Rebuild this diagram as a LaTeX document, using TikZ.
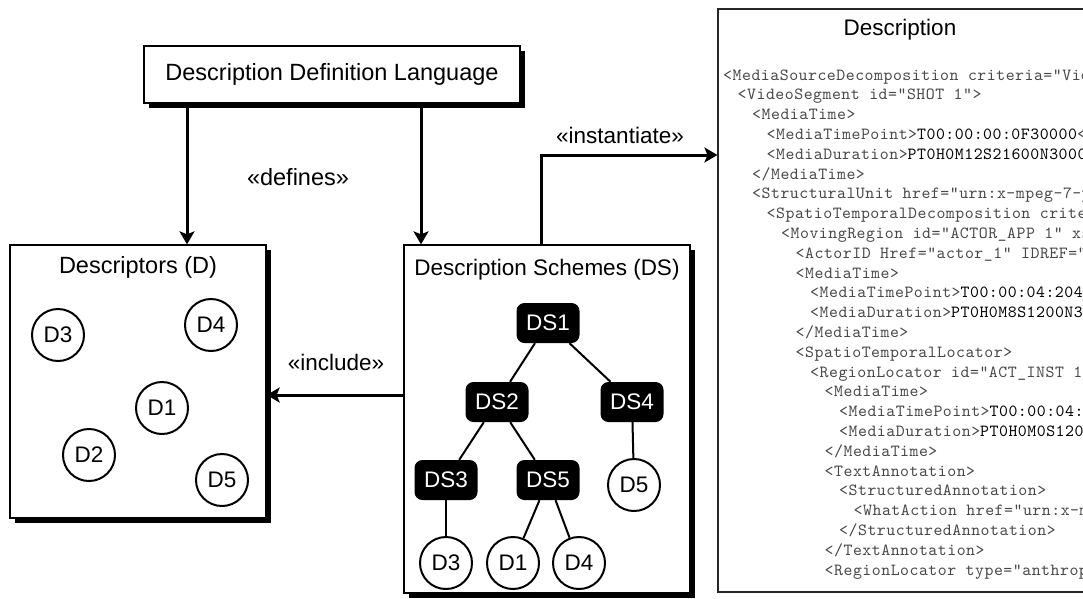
\documentclass[tikz,border=0pt]{standalone}
\usepackage{fontspec}
\setmainfont{Liberation Sans}
\newfontfamily\xmlfont{lmmono10-regular.otf}[LetterSpace=3]
\usetikzlibrary{arrows.meta,shadows}
\definecolor{tagc}{HTML}{484848}
\newcommand{\vl}[1]{\textcolor{black}{#1}}
\begin{document}
\begin{tikzpicture}[x=1pt,y=-1pt,
  sans/.style={font=\fontsize{22.5pt}{26pt}\selectfont, inner sep=0pt},
  bigsans/.style={font=\fontsize{23.5pt}{27pt}\selectfont, inner sep=0pt},
  box/.style={draw=black, line width=1.3pt, fill=white, inner sep=0pt,
    drop shadow={shadow xshift=5pt, shadow yshift=-5pt, opacity=1, fill=black}},
  descbox/.style={draw=black!85, line width=1.1pt, fill=white, inner sep=0pt},
  arr/.style={line width=3pt, -{Stealth[length=13pt,width=15pt,inset=3pt]}},
  dsnode/.style={fill=black, rounded corners=8pt, minimum width=63pt, minimum height=40pt,
    text=white, font=\fontsize{22.5pt}{26pt}\selectfont, inner sep=0pt},
  dnode/.style={circle, draw=black, line width=2pt, fill=white, minimum size=52pt,
    font=\fontsize{22.5pt}{26pt}\selectfont, inner sep=0pt},
  edge/.style={line width=2pt},
  xml/.style={anchor=base west, inner sep=0pt, text=tagc,
    font=\xmlfont\fontsize{17pt}{19pt}\selectfont}]
\clip (0,0) rectangle (1083,598);
\fill[white] (0,0) rectangle (1083,598);

% boxes
\node[box, minimum width=376pt, minimum height=57pt] (ddl) at (332,74.5) {};
\node[bigsans] (ddlt) at (332,74.5) {Description Definition Language};
\node[box, minimum width=256pt, minimum height=273pt] (D) at (138,381.5) {};
\node[bigsans] (Dt) at (138,267) {Descriptors (D)};
\node[box, minimum width=286pt, minimum height=348pt] (DS) at (547,419) {};
\node[sans] (DSt) at (547,270) {Description Schemes (DS)};
\node[descbox, minimum width=382pt, minimum height=583pt] (Desc) at (909,300.5) {};
\node[sans] (Desct) at (900,30) {Description};

% connectors
\coordinate (a1) at (187,0);
\coordinate (a2) at (421,0);
\coordinate (inc) at (0,395);
\coordinate (ins) at (541,155);
\draw[arr] (ddl.south -| a1) -- (D.north -| a1);
\draw[arr] (ddl.south -| a2) -- (DS.north -| a2);
\node[bigsans] (deflab) at (298,177) {«defines»};
\draw[arr] (DS.west |- inc) -- (D.east |- inc);
\node[sans] (inclab) at (336,362) {«include»};
\draw[arr] (DS.north -| ins) -- (ins) -- (Desc.west |- ins);
\node[sans] (inslab) at (620,135) {«instantiate»};

% descriptors
\node[dnode] (d3) at (58,335) {D3};
\node[dnode] (d4) at (211,325) {D4};
\node[dnode] (d1) at (162,408) {D1};
\node[dnode] (d2) at (89,455) {D2};
\node[dnode] (d5) at (222,480) {D5};

% tree
\node[dsnode] (ds1) at (548,323) {DS1};
\node[dsnode] (ds2) at (497,402) {DS2};
\node[dsnode] (ds4) at (632,402) {DS4};
\node[dsnode] (ds3) at (446,480) {DS3};
\node[dsnode] (ds5) at (548,480) {DS5};
\node[dnode] (t5) at (634,485) {D5};
\node[dnode] (t3) at (446,563) {D3};
\node[dnode] (t1) at (513,563) {D1};
\node[dnode] (t4) at (579,563) {D4};
\draw[edge] (ds1) -- (ds2);
\draw[edge] (ds1) -- (ds4);
\draw[edge] (ds2) -- (ds3);
\draw[edge] (ds2) -- (ds5);
\draw[edge] (ds3) -- (t3);
\draw[edge] (ds4) -- (t5);
\draw[edge] (ds5) -- (t1);
\draw[edge] (ds5) -- (t4);

% xml text
\begin{scope}
\clip (718,9) rectangle (1083,598);
\node[xml] (x1) at (723,80) {<MediaSourceDecomposition criteria="VideoSegment">};
\node[xml] (x2) at (737.5,99.8) {<VideoSegment id="SHOT 1">};
\node[xml] (x3) at (752,119.6) {<MediaTime>};
\node[xml] (x4) at (766.5,139.4) {<MediaTimePoint>\vl{T00:00:00:0F30000}</MediaTimePoint>};
\node[xml] (x5) at (766.5,159.2) {<MediaDuration>\vl{PT0H0M12S21600N30000F}</MediaDuration>};
\node[xml] (x6) at (752,179) {</MediaTime>};
\node[xml] (x7) at (752,198.8) {<StructuralUnit href="urn:x-mpeg-7-pictdesc">};
\node[xml] (x8) at (766.5,218.6) {<SpatioTemporalDecomposition criteria="Actor">};
\node[xml] (x9) at (781,238.4) {<MovingRegion id="ACTOR\_APP 1" xsi:type="Actor">};
\node[xml] (x10) at (795.5,258.2) {<ActorID Href="actor\_1" IDREF="actor">};
\node[xml] (x11) at (795.5,278) {<MediaTime>};
\node[xml] (x12) at (810,297.8) {<MediaTimePoint>\vl{T00:00:04:20400F30000}</MediaTimePoint>};
\node[xml] (x13) at (810,317.6) {<MediaDuration>\vl{PT0H0M8S1200N30000F}</MediaDuration>};
\node[xml] (x14) at (795.5,337.4) {</MediaTime>};
\node[xml] (x15) at (795.5,357.2) {<SpatioTemporalLocator>};
\node[xml] (x16) at (810,377) {<RegionLocator id="ACT\_INST 1">};
\node[xml] (x17) at (824.5,396.8) {<MediaTime>};
\node[xml] (x18) at (839,416.6) {<MediaTimePoint>\vl{T00:00:04:20400F30000}</MediaTimePoint>};
\node[xml] (x19) at (839,436.4) {<MediaDuration>\vl{PT0H0M0S1200N30000F}</MediaDuration>};
\node[xml] (x20) at (824.5,456.2) {</MediaTime>};
\node[xml] (x21) at (824.5,476) {<TextAnnotation>};
\node[xml] (x22) at (839,495.8) {<StructuredAnnotation>};
\node[xml] (x23) at (853.5,515.6) {<WhatAction href="urn:x-mpeg-7">};
\node[xml] (x24) at (839,535.4) {</StructuredAnnotation>};
\node[xml] (x25) at (824.5,555.2) {</TextAnnotation>};
\node[xml] (x26) at (824.5,575) {<RegionLocator type="anthropomorphic">};
\end{scope}
\end{tikzpicture}
\end{document}
